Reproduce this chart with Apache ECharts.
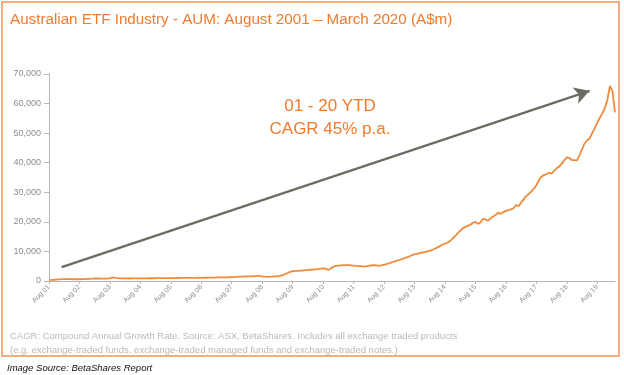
<!DOCTYPE html>
<html><head><meta charset="utf-8">
<script src="https://cdn.jsdelivr.net/npm/echarts@6/dist/echarts.min.js"></script>
<style>html,body{margin:0;padding:0;background:#fff}#c{width:624px;height:375px}</style>
</head><body><div id="c"></div>
<script>
// Monthly AUM (A$m), Aug 2001 .. Mar 2020
var aum = [
 300,350,420,500,550,600,650,700,650,600,620,600,
 600,620,650,700,750,800,900,850,800,780,800,820,
 900,1250,1050,950,900,880,870,860,850,860,870,880,
 880,890,900,920,940,930,950,960,940,950,960,970,
 980,1000,1010,1020,1050,1070,1080,1060,1050,1070,1080,1100,
 1050,1080,1100,1120,1150,1170,1200,1220,1210,1230,1250,1260,
 1280,1320,1400,1450,1500,1520,1550,1580,1600,1650,1750,1700,
 1500,1450,1420,1450,1500,1550,1600,1700,2000,2300,2700,3100,
 3300,3400,3450,3500,3550,3650,3700,3800,3850,3950,4050,4150,
 4300,4200,3700,4200,4800,5100,5200,5300,5350,5400,5350,5300,
 5200,5100,5050,5000,4850,5000,5100,5300,5400,5300,5100,5300,
 5500,5700,6000,6300,6600,6900,7100,7400,7700,8000,8300,8800,
 9000,9200,9400,9600,9800,10000,10200,10500,10900,11300,11800,12300,
 12600,12900,13500,14300,15200,16100,17000,17800,18300,18700,19000,19700,
 20000,19300,19800,21000,20800,20400,21200,21800,22400,23100,22700,23300,
 23700,24000,24200,24600,25700,25300,26500,27600,28700,29400,30200,31200,
 32400,34000,35300,35800,36200,36600,36300,37200,38100,38700,39700,40800,
 41800,41600,40900,40900,40800,42500,44500,46500,47500,48200,50000,51600,
 53500,55200,56700,58500,61200,66000,64200,57000
];
var monthNames = ['Aug','Sep','Oct','Nov','Dec','Jan','Feb','Mar','Apr','May','Jun','Jul'];
var startYear = 1; // 2001
var arrowFrom = ['Jan 02', 4700];
var arrowTo = ['May 19', 64300];
var annotation = ['01 - 20 YTD', 'CAGR 45% p.a.'];
var titleText = 'Australian ETF Industry - AUM: August 2001 \u2013 March 2020 (A$m)';
var footLines = ['CAGR: Compound Annual Growth Rate. Source: ASX, BetaShares. Includes all exchange traded products',
                 '(e.g. exchange-traded funds, exchange-traded managed funds and exchange-traded notes.)'];
var sourceText = 'Image Source: BetaShares Report';

var categories = [];
for (var i = 0; i < aum.length; i++) {
  var yr = startYear + Math.floor((i + 7) / 12);
  categories.push(monthNames[i % 12] + ' ' + (yr < 10 ? '0' + yr : '' + yr));
}

var chart = echarts.init(document.getElementById('c'), null, {renderer: 'canvas'});
var orange = '#f07a2e';
chart.setOption({
  animation: false,
  backgroundColor: '#fff',
  title: [
    {text: titleText, left: 5, top: 7, textStyle: {color: orange, fontSize: 15.2, fontWeight: 'normal', fontFamily: 'Liberation Sans'}},
    {text: annotation.join('\n'), left: 325, top: 90, textAlign: 'center',
     textStyle: {color: orange, fontSize: 17, fontWeight: 'normal', fontFamily: 'Liberation Sans', lineHeight: 23, align: 'center'}},
    {text: footLines.join('\n'), left: 5, top: 324, textStyle: {color: '#b9b9b9', fontSize: 9.5, fontWeight: 'normal', fontFamily: 'Liberation Sans', lineHeight: 14}},
    {text: sourceText, left: 2, top: 358, textStyle: {color: '#111', fontSize: 9.5, fontStyle: 'italic', fontWeight: 'normal', fontFamily: 'Liberation Sans'}}
  ],
  graphic: [
    {type: 'rect', shape: {x: 2, y: 2, width: 617, height: 354}, style: {fill: 'none', stroke: '#f5ad80', lineWidth: 2}, z: 100}
  ],
  grid: {left: 49, right: 9, top: 74, bottom: 94},
  xAxis: {
    type: 'category', data: categories, boundaryGap: false,
    axisLine: {lineStyle: {color: '#b8b8b8', width: 1}},
    axisTick: {show: true, interval: function (idx) { return idx % 12 === 0; }, length: 3, lineStyle: {color: '#b8b8b8'}},
    axisLabel: {interval: function (idx) { return idx % 12 === 0; }, rotate: 45, fontSize: 7, color: '#8c8c8c', margin: 5, fontFamily: 'Liberation Sans'},
    splitLine: {show: false}
  },
  yAxis: {
    type: 'value', min: 0, max: 70000, interval: 10000,
    axisLine: {show: true, lineStyle: {color: '#b8b8b8'}},
    axisTick: {show: true, length: 5, lineStyle: {color: '#b8b8b8'}},
    axisLabel: {fontSize: 9, color: '#8c8c8c', margin: 8, fontFamily: 'Liberation Sans',
      formatter: function (v) { return v.toLocaleString('en-US'); }},
    splitLine: {show: false}
  },
  series: [{
    type: 'line', data: aum, showSymbol: false, symbol: 'none',
    lineStyle: {color: '#f08a3c', width: 1.8}, itemStyle: {color: '#f08a3c'},
    markLine: {
      silent: true, symbol: ['none', 'arrow'], symbolSize: [13, 15],
      label: {show: false},
      lineStyle: {color: '#6b6c63', width: 2.3, type: 'solid'},
      data: [[{coord: arrowFrom}, {coord: arrowTo}]]
    }
  }]
});
</script></body></html>
